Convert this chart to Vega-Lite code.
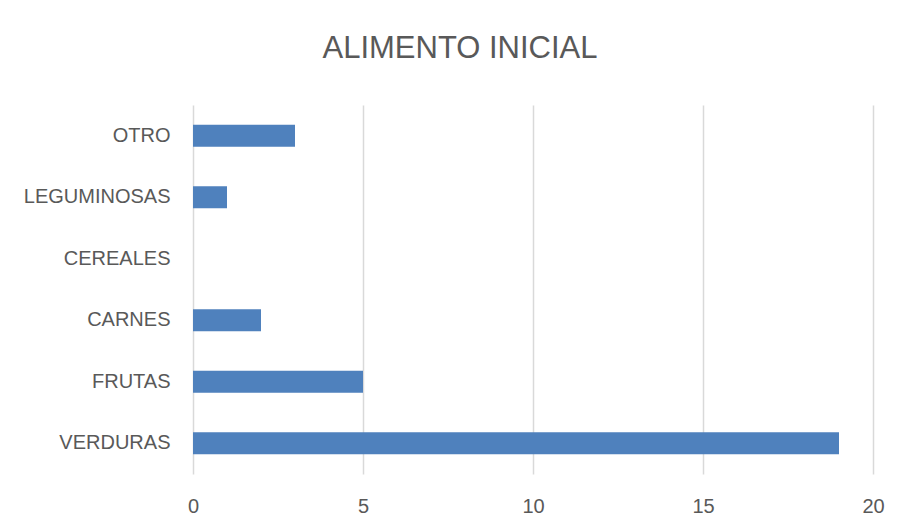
{
  "$schema": "https://vega.github.io/schema/vega-lite/v6.json",
  "width": 680,
  "height": 369,
  "autosize": {"type": "none"},
  "padding": {"left": 193, "top": 105, "right": 28, "bottom": 58},
  "background": "white",
  "title": {
    "text": "ALIMENTO INICIAL",
    "anchor": "middle",
    "dx": -73,
    "offset": 40,
    "font": "Liberation Sans",
    "fontSize": 31,
    "fontWeight": "normal",
    "color": "#595959"
  },
  "data": {
    "values": [
      {"alimento": "OTRO", "cantidad": 3},
      {"alimento": "LEGUMINOSAS", "cantidad": 1},
      {"alimento": "CEREALES", "cantidad": 0},
      {"alimento": "CARNES", "cantidad": 2},
      {"alimento": "FRUTAS", "cantidad": 5},
      {"alimento": "VERDURAS", "cantidad": 19}
    ]
  },
  "mark": {"type": "bar", "color": "#4F81BD"},
  "encoding": {
    "y": {
      "field": "alimento",
      "type": "nominal",
      "sort": null,
      "scale": {"paddingInner": 0.64, "paddingOuter": 0.32},
      "axis": {
        "title": null,
        "ticks": false,
        "domain": false,
        "labelPadding": 23,
        "labelFont": "Liberation Sans",
        "labelFontSize": 20,
        "labelColor": "#595959"
      }
    },
    "x": {
      "field": "cantidad",
      "type": "quantitative",
      "scale": {"domain": [0, 20], "nice": false},
      "axis": {
        "title": null,
        "values": [0, 5, 10, 15, 20],
        "ticks": false,
        "domain": false,
        "grid": true,
        "gridColor": "#D9D9D9",
        "gridWidth": 1.5,
        "labelFlush": false,
        "labelPadding": 22,
        "labelFont": "Liberation Sans",
        "labelFontSize": 20,
        "labelColor": "#595959"
      }
    }
  },
  "config": {"view": {"stroke": null}}
}
